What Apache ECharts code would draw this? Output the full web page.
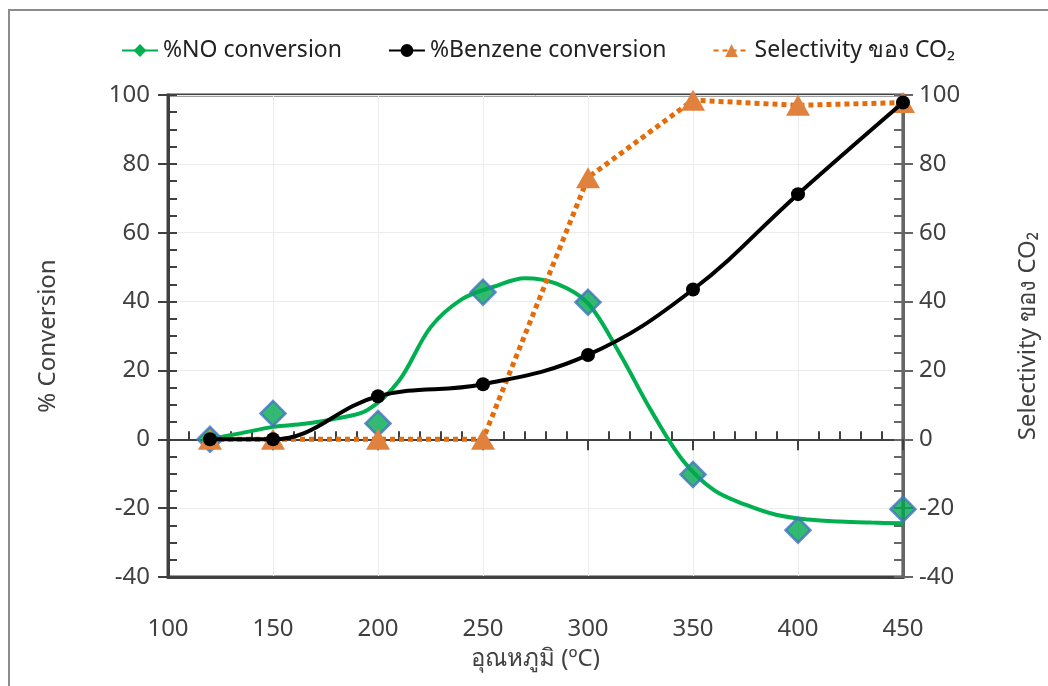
<!DOCTYPE html>
<html>
<head>
<meta charset="utf-8">
<script src="https://cdn.jsdelivr.net/npm/echarts@6/dist/echarts.min.js"></script>
<style>
    html, body {margin: 0; padding: 0; background: #fff;}
    #chart {width: 1048px; height: 686px;}
</style>
</head>
<body>
<div id="chart"></div>
<script>
// temperature points (x)
const temps = [120, 150, 200, 250, 300, 350, 400, 450];
// measured values at each temperature
const noConv = [0, 7.5, 4.6, 42.7, 39.8, -10.2, -26.4, -20.3];
const benzeneConv = [0, 0, 12.5, 16, 24.5, 43.5, 71.2, 97.8];
const co2Select = [0, 0, 0, 0, 76, 98.5, 97, 97.8];

// green smoothed curve for NO
const noCurveX = [120, 135, 150, 165, 180, 195, 210, 225, 240, 255, 270, 285, 300, 315, 330, 345, 360, 375, 390, 405, 420, 435, 450];
const noCurveY = [0, 1.8, 3.6, 4.5, 6, 8.5, 17, 32.5, 40.7, 44.3, 46.8, 45.2, 39.5, 25, 8.4, -6, -14.8, -19, -22, -23.3, -23.9, -24.2, -24.4];

const xTicks = [100, 450, 50];
const yTicks = [-40, 100, 20];

const axisColor = '#404040';
const font = '"Noto Sans", "DejaVu Sans", sans-serif';

function pairs(xs, ys) {
    return xs.map(function (x, i) {
        return [x, ys[i]];
    });
}

let chart = echarts.init(document.getElementById('chart'));

let yBase = {
    type: 'value',
    min: yTicks[0],
    max: yTicks[1],
    interval: yTicks[2]
};
let xBase = {
    type: 'value',
    min: xTicks[0],
    max: xTicks[1],
    interval: xTicks[2]
};

let option = {
    animation: false,
    textStyle: {fontFamily: font},
    graphic: [{
        type: 'rect',
        shape: {x: 9, y: 10, width: 1200, height: 800},
        style: {fill: 'none', stroke: '#8c8c8c', lineWidth: 2},
        silent: true
    }],
    legend: {
        top: 34,
        left: 116,
        itemWidth: 36,
        itemHeight: 16,
        itemGap: 46,
        data: ['%NO conversion', '%Benzene conversion', 'Selectivity ของ CO₂'],
        textStyle: {fontSize: 23, color: '#222', fontFamily: font}
    },
    grid: {
        left: 168,
        right: 145,
        top: 95,
        bottom: 109,
        show: true,
        borderColor: axisColor,
        borderWidth: 3
    },
    xAxis: [
        // bottom axis: labels + vertical grid
        Object.assign({}, xBase, {
            position: 'bottom',
            axisLine: {onZero: false, lineStyle: {color: axisColor, width: 3}},
            axisTick: {show: false},
            axisLabel: {fontSize: 24, color: axisColor, margin: 40},
            splitLine: {show: true, lineStyle: {color: '#ececec', width: 1}},
            name: 'อุณหภูมิ (ºC)',
            nameLocation: 'middle',
            nameGap: 70,
            nameTextStyle: {fontSize: 24, color: axisColor}
        }),
        // axis line at y = 0, major ticks down
        Object.assign({}, xBase, {
            position: 'bottom',
            axisLine: {onZero: true, onZeroAxisIndex: 0, lineStyle: {color: axisColor, width: 2}},
            axisTick: {show: true, length: 11, lineStyle: {color: axisColor, width: 2}},
            axisLabel: {show: false},
            splitLine: {show: false}
        }),
        // minor ticks up at y = 0
        Object.assign({}, xBase, {
            position: 'top',
            axisLine: {onZero: true, onZeroAxisIndex: 0, lineStyle: {color: axisColor, width: 2}},
            axisTick: {show: false},
            minorTick: {show: true, splitNumber: 5, length: 8, lineStyle: {color: axisColor, width: 2}},
            axisLabel: {show: false},
            splitLine: {show: false}
        })
    ],
    yAxis: [
        Object.assign({}, yBase, {
            position: 'left',
            axisLine: {onZero: false, lineStyle: {color: axisColor, width: 3}},
            axisTick: {show: true, inside: true, length: 9, lineStyle: {color: axisColor, width: 2}},
            minorTick: {show: true, splitNumber: 4, length: 9, lineStyle: {color: axisColor, width: 2}},
            axisLabel: {fontSize: 24, color: axisColor, margin: 18},
            splitLine: {show: true, lineStyle: {color: '#ececec', width: 1}},
            name: '% Conversion',
            nameLocation: 'middle',
            nameGap: 108,
            nameTextStyle: {fontSize: 24, color: axisColor}
        }),
        Object.assign({}, yBase, {
            position: 'right',
            axisLine: {onZero: false, lineStyle: {color: '#666', width: 3}},
            axisTick: {show: true, inside: true, length: 9, lineStyle: {color: '#666', width: 2}},
            minorTick: {show: true, splitNumber: 4, length: 9, lineStyle: {color: '#666', width: 2}},
            axisLabel: {fontSize: 24, color: axisColor, margin: 16},
            splitLine: {show: false},
            name: 'Selectivity ของ CO₂',
            nameLocation: 'middle',
            nameGap: 113,
            nameRotate: 90,
            nameTextStyle: {fontSize: 24, color: axisColor}
        }),
        // outside halves of the major ticks
        Object.assign({}, yBase, {
            position: 'left',
            axisLine: {show: false, onZero: false},
            axisTick: {show: true, length: 10, lineStyle: {color: axisColor, width: 2}},
            axisLabel: {show: false},
            splitLine: {show: false}
        }),
        Object.assign({}, yBase, {
            position: 'right',
            axisLine: {show: false, onZero: false},
            axisTick: {show: true, length: 10, lineStyle: {color: '#666', width: 2}},
            axisLabel: {show: false},
            splitLine: {show: false}
        })
    ],
    series: [
        {
            name: '%NO conversion',
            type: 'line',
            smooth: 0.34,
            symbol: 'diamond',
            showSymbol: false,
            itemStyle: {color: '#00B050'},
            lineStyle: {color: '#00B050', width: 4},
            data: pairs(noCurveX, noCurveY),
            z: 2
        },
        {
            name: 'NO points',
            type: 'scatter',
            symbol: 'diamond',
            symbolSize: 25,
            itemStyle: {color: '#00A84F', borderColor: '#4472C4', borderWidth: 2.5},
            data: pairs(temps, noConv),
            z: 3
        },
        {
            name: '%Benzene conversion',
            type: 'line',
            smooth: 0.4,
            symbol: 'circle',
            symbolSize: 14,
            itemStyle: {color: '#000'},
            lineStyle: {color: '#000', width: 4},
            data: pairs(temps, benzeneConv),
            z: 4
        },
        {
            name: 'Selectivity ของ CO₂',
            type: 'line',
            yAxisIndex: 1,
            symbol: 'triangle',
            symbolSize: [24, 21],
            itemStyle: {color: '#E0823D'},
            lineStyle: {color: '#E46C0A', width: 5, type: [5, 4]},
            data: pairs(temps, co2Select),
            z: 3
        }
    ]
};

chart.setOption(option);
</script>
</body>
</html>
